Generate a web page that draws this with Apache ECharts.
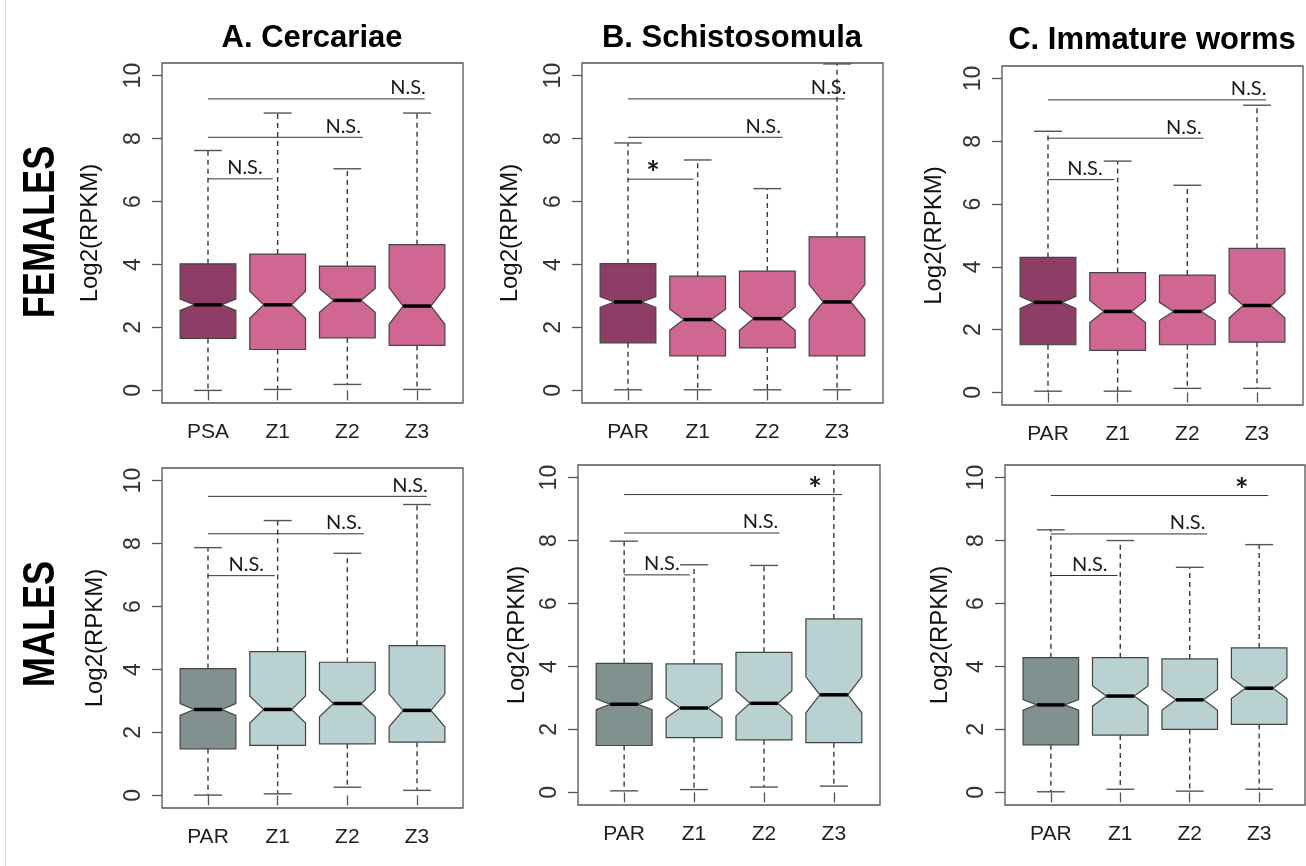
<!DOCTYPE html>
<html><head><meta charset="utf-8">
<script src="https://cdn.jsdelivr.net/npm/echarts@6/dist/echarts.min.js"></script>
<style>html,body{margin:0;padding:0;background:#fff}#c{width:1306px;height:866px}</style>
</head><body><div id="c"></div>
<script>
// ---------- text ----------
const stageTitles = ['A. Cercariae', 'B. Schistosomula', 'C. Immature worms'];
const rowTitles = ['FEMALES', 'MALES'];
const yAxisTitle = 'Log2(RPKM)';
const yTicks = [0, 2, 4, 6, 8, 10];
const catsFemaleA = ['PSA', 'Z1', 'Z2', 'Z3'];
const catsPar = ['PAR', 'Z1', 'Z2', 'Z3'];

// ---------- box statistics: [whiskerLow, Q1, notchLow, median, notchHigh, Q3, whiskerHigh] ----------
const femaleA = [
  [0.00, 1.65, 2.54, 2.72, 2.90, 4.02, 7.62],
  [0.03, 1.30, 2.29, 2.72, 3.15, 4.33, 8.81],
  [0.19, 1.67, 2.48, 2.86, 3.24, 3.95, 7.04],
  [0.03, 1.43, 2.10, 2.68, 3.26, 4.63, 8.81]
];
const femaleB = [
  [0.02, 1.51, 2.64, 2.81, 2.98, 4.03, 7.86],
  [0.02, 1.10, 1.92, 2.25, 2.58, 3.63, 7.32],
  [0.02, 1.35, 1.91, 2.28, 2.65, 3.79, 6.41],
  [0.02, 1.10, 2.26, 2.81, 3.36, 4.88, 10.37]
];
const femaleC = [
  [0.04, 1.52, 2.68, 2.87, 3.06, 4.30, 8.32],
  [0.04, 1.34, 2.23, 2.58, 2.93, 3.82, 7.37],
  [0.13, 1.52, 2.29, 2.58, 2.87, 3.74, 6.60],
  [0.13, 1.60, 2.37, 2.77, 3.17, 4.59, 9.15]
];
const maleA = [
  [0.01, 1.48, 2.54, 2.73, 2.92, 4.03, 7.87],
  [0.05, 1.59, 2.30, 2.73, 3.16, 4.57, 8.73],
  [0.26, 1.64, 2.50, 2.92, 3.34, 4.23, 7.69],
  [0.16, 1.69, 2.18, 2.70, 3.22, 4.76, 9.24]
];
const maleB = [
  [0.05, 1.49, 2.63, 2.80, 2.97, 4.10, 7.98],
  [0.09, 1.74, 2.36, 2.68, 3.00, 4.08, 7.23],
  [0.17, 1.67, 2.43, 2.83, 3.23, 4.45, 7.21],
  [0.20, 1.58, 2.53, 3.10, 3.67, 5.51, 10.80]
];
const maleC = [
  [0.02, 1.51, 2.61, 2.78, 2.95, 4.28, 8.34],
  [0.10, 1.82, 2.74, 3.06, 3.38, 4.28, 8.00],
  [0.04, 2.00, 2.61, 2.94, 3.27, 4.24, 7.15],
  [0.10, 2.16, 2.98, 3.31, 3.64, 4.59, 7.87]
];

// ---------- significance brackets: [level, fromGroup, toPos, labelPos, label] ----------
const sigFemaleA = [[6.72, 1, 1.93, 1.53, 'N.S.'], [8.04, 1, 3.22, 2.94, 'N.S.'], [9.26, 1, 4.11, 3.87, 'N.S.']];
const sigFemaleB = [[6.71, 1, 1.94, 1.36, '*'], [8.04, 1, 3.22, 2.94, 'N.S.'], [9.26, 1, 4.11, 3.88, 'N.S.']];
const sigFemaleC = [[6.78, 1, 1.95, 1.53, 'N.S.'], [8.10, 1, 3.23, 2.95, 'N.S.'], [9.32, 1, 4.13, 3.88, 'N.S.']];
const sigMaleA = [[6.98, 1, 1.96, 1.55, 'N.S.'], [8.31, 1, 3.24, 2.95, 'N.S.'], [9.50, 1, 4.14, 3.90, 'N.S.']];
const sigMaleB = [[6.91, 1, 1.94, 1.54, 'N.S.'], [8.24, 1, 3.22, 2.95, 'N.S.'], [9.46, 1, 4.12, 3.73, '*']];
const sigMaleC = [[6.89, 1, 1.96, 1.56, 'N.S.'], [8.21, 1, 3.25, 2.97, 'N.S.'], [9.43, 1, 4.13, 3.75, '*']];

// ---------- styling ----------
const femaleColors = ['#8E3D66', '#D06692'];
const maleColors = ['#819190', '#B9D1D1'];
const FONT = '"Liberation Sans", Arial, sans-serif';
const ANNOT_FONT = 'Lato, "Open Sans", sans-serif';
const Y_MIN = -0.4, Y_MAX = 10.4, X_MIN = 0.34, X_MAX = 4.66;

const panels = [
  { stats: femaleA, cats: catsFemaleA, sig: sigFemaleA, colors: femaleColors, grid: { left: 162, top: 63, width: 301, height: 340 }, nameGap: 60 },
  { stats: femaleB, cats: catsPar, sig: sigFemaleB, colors: femaleColors, grid: { left: 582, top: 63, width: 301, height: 340 }, nameGap: 60 },
  { stats: femaleC, cats: catsPar, sig: sigFemaleC, colors: femaleColors, grid: { left: 1002, top: 66, width: 301, height: 339 }, nameGap: 56 },
  { stats: maleA, cats: catsPar, sig: sigMaleA, colors: maleColors, grid: { left: 162, top: 468, width: 301, height: 340 }, nameGap: 55 },
  { stats: maleB, cats: catsPar, sig: sigMaleB, colors: maleColors, grid: { left: 578, top: 465, width: 302, height: 340 }, nameGap: 49 },
  { stats: maleC, cats: catsPar, sig: sigMaleC, colors: maleColors, grid: { left: 1005, top: 465, width: 300, height: 340 }, nameGap: 53 }
];

function makeBoxRenderer(p) {
  return function (params, api) {
    const x = api.value(0);
    const lo = api.value(1), q1 = api.value(2), nlo = api.value(3), med = api.value(4),
          nhi = api.value(5), q3 = api.value(6), hi = api.value(7);
    const w = 0.4, cap = 0.2;
    const c = (a, b) => api.coord([a, b]);
    const hiClip = Math.min(hi, Y_MAX);
    const pts = [
      c(x - w, q1), c(x + w, q1), c(x + w, nlo), c(x + w / 2, med), c(x + w, nhi),
      c(x + w, q3), c(x - w, q3), c(x - w, nhi), c(x - w / 2, med), c(x - w, nlo)
    ];
    const fill = params.dataIndex === 0 ? p.colors[0] : p.colors[1];
    const line = (a, b, style) => ({ type: 'line', shape: { x1: a[0], y1: a[1], x2: b[0], y2: b[1] }, style });
    const dashed = { stroke: '#3a3a3a', lineWidth: 1.4, lineDash: [5, 4] };
    const solid = { stroke: '#555', lineWidth: 1.4 };
    const children = [
      line(c(x, q3), c(x, hiClip), dashed),
      line(c(x, q1), c(x, lo), dashed),
      line(c(x - cap, lo), c(x + cap, lo), solid)
    ];
    if (hi <= Y_MAX) children.push(line(c(x - cap, hi), c(x + cap, hi), solid));
    children.push({ type: 'polygon', shape: { points: pts }, style: { fill: fill, stroke: '#444', lineWidth: 1.2 } });
    children.push(line(c(x - w / 2, med), c(x + w / 2, med), { stroke: '#000', lineWidth: 3.5 }));
    return { type: 'group', children };
  };
}

function makeSigRenderer(p) {
  return function (params, api) {
    const lvl = api.value(0), x0 = api.value(1), x1 = api.value(2), lx = api.value(3);
    const label = p.sig[params.dataIndex][4];
    const a = api.coord([x0, lvl]), b = api.coord([x1, lvl]), l = api.coord([lx, lvl]);
    const star = label === '*';
    return {
      type: 'group',
      children: [
        { type: 'line', shape: { x1: a[0], y1: a[1], x2: b[0], y2: b[1] }, style: { stroke: '#333', lineWidth: 1 } },
        { type: 'text', x: l[0], y: star ? l[1] - 4 : l[1] - 1,
          style: { text: label, align: 'center', verticalAlign: star ? 'middle' : 'bottom',
                   font: star ? 'bold 32px ' + ANNOT_FONT : '20px ' + ANNOT_FONT, fill: '#1a1a1a' } }
      ]
    };
  };
}

const grids = [], xAxes = [], yAxes = [], series = [];
panels.forEach((p, i) => {
  grids.push(Object.assign({ show: true, borderColor: '#555', borderWidth: 1.3, backgroundColor: 'transparent', containLabel: false, outerBoundsMode: 'none' }, p.grid));
  xAxes.push({
    type: 'value', gridIndex: i, min: X_MIN, max: X_MAX,
    axisLine: { show: false }, splitLine: { show: false },
    axisTick: { show: true, length: 10, customValues: [1, 2, 3, 4], lineStyle: { color: '#555', width: 1.3 } },
    axisLabel: { show: true, customValues: [1, 2, 3, 4], formatter: v => p.cats[Math.round(v) - 1] || '',
                 margin: 19, fontSize: 21, color: '#1d1d28', fontFamily: FONT }
  });
  yAxes.push({
    type: 'value', gridIndex: i, min: Y_MIN, max: Y_MAX,
    axisLine: { show: false }, splitLine: { show: false },
    axisTick: { show: true, length: 10, customValues: yTicks, lineStyle: { color: '#555', width: 1.3 } },
    axisLabel: { show: true, customValues: yTicks, rotate: 90, margin: 17, fontSize: 23, color: '#333', fontFamily: FONT },
    name: yAxisTitle, nameLocation: 'middle', nameRotate: 90, nameGap: p.nameGap,
    nameTextStyle: { fontSize: 24, color: '#111', fontFamily: FONT }
  });
  series.push({
    type: 'custom', xAxisIndex: i, yAxisIndex: i, clip: true,
    renderItem: makeBoxRenderer(p),
    data: p.stats.map((s, k) => [k + 1].concat(s)),
    silent: true, z: 2
  });
  series.push({
    type: 'custom', xAxisIndex: i, yAxisIndex: i,
    renderItem: makeSigRenderer(p),
    data: p.sig.map(s => s.slice(0, 4)),
    silent: true, z: 3
  });
});

const graphic = [
  { type: 'line', shape: { x1: 5.5, y1: 0, x2: 5.5, y2: 866 }, style: { stroke: '#ddd', lineWidth: 1 } },
  { type: 'text', x: 312, y: 38, style: { text: stageTitles[0], align: 'center', verticalAlign: 'middle', font: 'bold 31px ' + FONT, fill: '#000' } },
  { type: 'text', x: 732, y: 38, style: { text: stageTitles[1], align: 'center', verticalAlign: 'middle', font: 'bold 31px ' + FONT, fill: '#000' } },
  { type: 'text', x: 1152, y: 40, style: { text: stageTitles[2], align: 'center', verticalAlign: 'middle', font: 'bold 31px ' + FONT, fill: '#000' } },
  { type: 'text', x: 42, y: 232, rotation: Math.PI / 2, scaleX: 0.82, style: { text: rowTitles[0], align: 'center', verticalAlign: 'middle', font: 'bold 44px ' + FONT, fill: '#000' } },
  { type: 'text', x: 42, y: 624, rotation: Math.PI / 2, scaleX: 0.82, style: { text: rowTitles[1], align: 'center', verticalAlign: 'middle', font: 'bold 44px ' + FONT, fill: '#000' } }
];

const chart = echarts.init(document.getElementById('c'), null, { renderer: 'canvas' });
chart.setOption({
  backgroundColor: '#fff',
  animation: false,
  grid: grids, xAxis: xAxes, yAxis: yAxes, series: series, graphic: graphic
});
</script></body></html>
